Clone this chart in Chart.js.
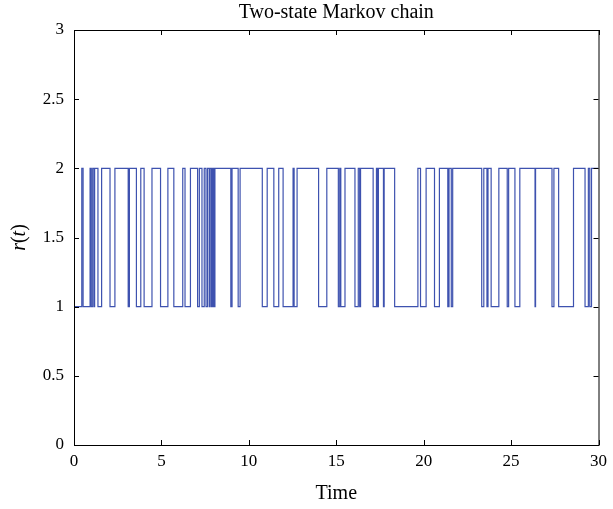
<!DOCTYPE html>
<html>
<head>
<meta charset="utf-8">
<script src="https://cdn.jsdelivr.net/npm/chart.js@4/dist/chart.umd.min.js"></script>
<style>
  html, body { margin: 0; padding: 0; background: #fff; }
</style>
</head>
<body>
<canvas id="markov" width="613" height="509"></canvas>
<script>
// instants where the chain jumps, and the state it jumps to
const jumpTimes = [
  0, 0.445, 0.52, 0.92, 0.99, 1.07, 1.15, 1.18, 1.37, 1.58,
  2.06, 2.34, 3.10, 3.17, 3.57, 3.82, 4.01, 4.46, 4.95, 5.37,
  5.71, 6.22, 6.35, 6.66, 7.07, 7.17, 7.32, 7.45, 7.55, 7.64,
  7.74, 7.79, 7.87, 7.94, 8.00, 8.06, 8.97, 9.04, 9.39, 9.50,
  10.77, 11.05, 11.43, 11.71, 11.96, 12.53, 12.59, 12.76, 13.99, 14.46,
  15.12, 15.20, 15.26, 15.50, 16.07, 16.26, 16.34, 16.39, 17.11, 17.30,
  17.36, 17.41, 17.70, 17.74, 18.34, 19.67, 19.82, 20.14, 20.62, 20.90,
  21.38, 21.45, 21.58, 21.66, 23.32, 23.44, 23.62, 23.68, 23.86, 24.30,
  24.78, 24.86, 25.22, 25.50, 26.37, 26.40, 27.34, 27.45, 27.72, 28.57,
  29.23, 29.42, 29.50, 29.60, 30
];
const jumpStates = [
  1, 2, 1, 2, 1, 2, 1, 2, 1, 2,
  1, 2, 1, 2, 1, 2, 1, 2, 1, 2,
  1, 2, 1, 2, 1, 2, 1, 2, 1, 2,
  1, 2, 1, 2, 1, 2, 1, 2, 1, 2,
  1, 2, 1, 2, 1, 2, 1, 2, 1, 2,
  1, 2, 1, 2, 1, 2, 1, 2, 1, 2,
  1, 2, 1, 2, 1, 2, 1, 2, 1, 2,
  1, 2, 1, 2, 1, 2, 1, 2, 1, 2,
  1, 2, 1, 2, 1, 2, 1, 2, 1, 2,
  1, 2, 1, 2, 2
];
const xTicks = [0, 5, 10, 15, 20, 25, 30];
const yTicks = [0, 0.5, 1, 1.5, 2, 2.5, 3];

const serif = '"Liberation Serif", "DejaVu Serif", serif';

// MATLAB style box with inward ticks on every side, plus the r(t) label
const boxTicks = {
  id: 'boxTicks',
  afterDraw(chart) {
    const { ctx, chartArea: a, scales: { x, y } } = chart;
    ctx.save();
    ctx.strokeStyle = '#000';
    ctx.lineWidth = 1;
    ctx.strokeRect(a.left + 0.5, a.top + 0.5, a.right - a.left, a.bottom - a.top);
    ctx.beginPath();
    xTicks.forEach(v => {
      const px = Math.round(x.getPixelForValue(v)) + 0.5;
      ctx.moveTo(px, a.bottom); ctx.lineTo(px, a.bottom - 5);
      ctx.moveTo(px, a.top); ctx.lineTo(px, a.top + 5);
    });
    yTicks.forEach(v => {
      const py = Math.round(y.getPixelForValue(v)) + 0.5;
      ctx.moveTo(a.left, py); ctx.lineTo(a.left + 5, py);
      ctx.moveTo(a.right, py); ctx.lineTo(a.right - 5, py);
    });
    ctx.stroke();

    // y label with italic r and t
    const parts = [['r', 'italic'], ['(', 'normal'], ['t', 'italic'], [')', 'normal']];
    ctx.fillStyle = '#000';
    ctx.textBaseline = 'middle';
    let total = 0;
    parts.forEach(p => { ctx.font = p[1] + ' 20px ' + serif; total += ctx.measureText(p[0]).width; });
    ctx.translate(20, (a.top + a.bottom) / 2);
    ctx.rotate(-Math.PI / 2);
    let cx = -total / 2;
    parts.forEach(p => {
      ctx.font = p[1] + ' 20px ' + serif;
      ctx.fillText(p[0], cx, 0);
      cx += ctx.measureText(p[0]).width;
    });
    ctx.restore();
  }
};

const points = jumpTimes.map((t, i) => ({ x: t, y: jumpStates[i] }));

new Chart(document.getElementById('markov').getContext('2d'), {
  type: 'line',
  data: {
    datasets: [{
      data: points,
      stepped: true,
      borderColor: 'rgb(62, 82, 175)',
      borderWidth: 1.2,
      pointRadius: 0,
      fill: false
    }]
  },
  options: {
    responsive: false,
    animation: false,
    layout: { padding: { left: 0, right: 12, top: 0, bottom: 0 } },
    plugins: {
      legend: { display: false },
      tooltip: { enabled: false },
      title: {
        display: true,
        fullSize: false,
        text: 'Two-state Markov chain',
        color: '#000',
        font: { family: serif, size: 20, weight: 'normal', lineHeight: 1.2 },
        padding: { top: 1, bottom: 5 }
      }
    },
    scales: {
      x: {
        type: 'linear',
        min: 0,
        max: 30,
        afterBuildTicks: s => { s.ticks = xTicks.map(v => ({ value: v })); },
        afterFit: s => { s.height = 64; },
        grid: { display: false, drawTicks: false },
        border: { display: false },
        ticks: {
          color: '#000', padding: 6, maxRotation: 0,
          font: { family: serif, size: 17 },
          callback: v => String(v)
        },
        title: {
          display: true,
          text: 'Time',
          color: '#000',
          font: { family: serif, size: 20 },
          padding: { top: 4, bottom: 3 }
        }
      },
      y: {
        min: 0,
        max: 3,
        afterBuildTicks: s => { s.ticks = yTicks.map(v => ({ value: v })); },
        afterFit: s => { s.width = 74; },
        grid: { display: false, drawTicks: false },
        border: { display: false },
        ticks: {
          color: '#000', padding: 10,
          font: { family: serif, size: 17 },
          callback: v => String(v)
        }
      }
    }
  },
  plugins: [boxTicks]
});
</script>
</body>
</html>
